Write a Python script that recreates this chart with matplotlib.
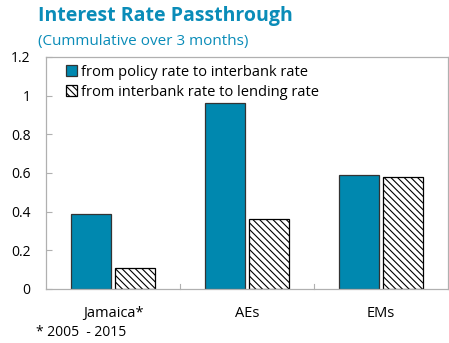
import numpy as np
import matplotlib
matplotlib.use('Agg')
import matplotlib.pyplot as plt

plt.rcParams['font.family'] = ['Open Sans', 'DejaVu Sans']
plt.rcParams['hatch.linewidth'] = 0.8

categories = ['Jamaica*', 'AEs', 'EMs']
policy_to_interbank = [0.39, 0.96, 0.59]
interbank_to_lending = [0.11, 0.36, 0.58]
yticks = [0, 0.2, 0.4, 0.6, 0.8, 1, 1.2]
ytick_labels = ['0', '0.2', '0.4', '0.6', '0.8', '1', '1.2']

BLUE = '#0088AF'
TITLE = '#0A8CB8'

fig = plt.figure(figsize=(4.49, 3.43), dpi=100)
ax = fig.add_axes([46/449, 1 - 289/343, 402/449, 232/343])

x = np.arange(len(categories))
w = 0.3
ax.bar(x - 0.165, policy_to_interbank, w, color=BLUE, edgecolor='#333333', lw=0.9,
	label='from policy rate to interbank rate')
ax.bar(x + 0.165, interbank_to_lending, w, color='white', edgecolor='black', lw=0.9,
	hatch='\\\\\\\\\\', label='from interbank rate to lending rate')

ax.set_xlim(-0.5, 2.5)
ax.set_ylim(0, 1.2)
ax.set_yticks(yticks)
ax.set_yticklabels(ytick_labels, fontsize=10)
ax.set_xticks(x)
ax.set_xticklabels(categories, fontsize=10.5)
ax.tick_params(axis='x', length=0, pad=12)
ax.tick_params(axis='y', direction='in', length=4, color='#b0b0b0', pad=11)

# category separators on the x axis
for sep in [0.5, 1.5]:
	ax.plot([sep, sep], [0, 0.025], color='#b0b0b0', lw=0.8, clip_on=False)

for s in ax.spines.values():
	s.set_color('#b0b0b0')
	s.set_linewidth(0.9)

ax.legend(loc='upper left', bbox_to_anchor=(0.028, 1.005), frameon=False, fontsize=10.5,
	handlelength=0.75, handleheight=0.75, handletextpad=0.3, labelspacing=0.35, borderaxespad=0.2)

fig.text(38/449, 1 - 16/343, 'Interest Rate Passthrough', color=TITLE, fontsize=14,
	fontweight='bold', va='center', ha='left')
fig.text(38/449, 1 - 42/343, '(Cummulative over 3 months)', color=TITLE, fontsize=11,
	va='center', ha='left')
fig.text(36/449, 1 - 333/343, '* 2005  - 2015', fontsize=10, va='center', ha='left')

fig.savefig('out.png', dpi=100)
